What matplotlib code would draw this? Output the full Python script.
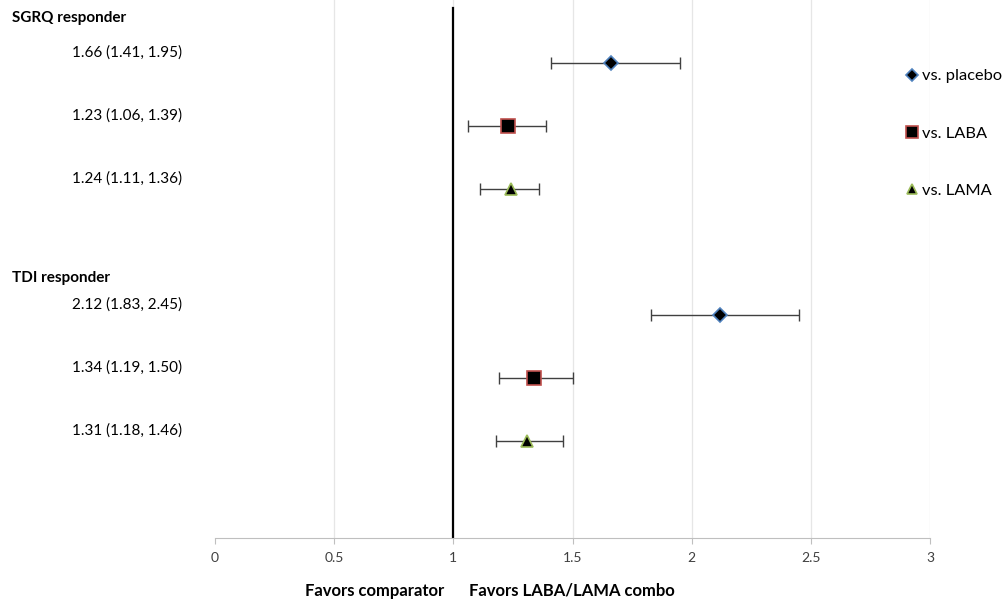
import matplotlib.pyplot as plt
import numpy as np

# data
outcomes = ["SGRQ responder", "TDI responder"]
comparators = ["vs. placebo", "vs. LABA", "vs. LAMA"]
odds_ratio = [[1.66, 1.23, 1.24], [2.12, 1.34, 1.31]]
ci_low = [[1.41, 1.06, 1.11], [1.83, 1.19, 1.18]]
ci_high = [[1.95, 1.39, 1.36], [2.45, 1.50, 1.46]]
xticks = [0, 0.5, 1, 1.5, 2, 2.5, 3]

markers = ["D", "s", "^"]
marker_sizes = [7, 9.5, 9]
edge_colors = ["#4F81BD", "#C0504D", "#9BBB59"]
header_y = [0.29, 4.42]

plt.rcParams['font.family'] = ['Lato', 'DejaVu Sans']

fig = plt.figure(figsize=(10.05, 6.02), dpi=100)
ax = fig.add_axes([215 / 1005, (602 - 538) / 602, 715 / 1005, 538 / 602])

ax.set_xlim(0, 3)
ax.set_ylim(8.54, 0)

# light vertical gridlines
for xt in xticks[1:]:
    ax.axvline(xt, color="#E6E6E6", linewidth=0.9, zorder=0)
# line of no effect
ax.plot([1, 1], [0.13, 8.54], color="black", linewidth=1.6, zorder=1)

handles = []
for g, outcome in enumerate(outcomes):
    ax.text(-0.85, header_y[g], outcome, fontsize=11, fontweight="bold",
            ha="left", va="center", clip_on=False)
    for i, comp in enumerate(comparators):
        row = g * 4 + i + 1
        err = [[odds_ratio[g][i] - ci_low[g][i]], [ci_high[g][i] - odds_ratio[g][i]]]
        ax.errorbar(odds_ratio[g][i], row, xerr=err, fmt="none", ecolor="#404040",
                    elinewidth=1.0, capsize=4, capthick=1.0, zorder=2)
        h, = ax.plot(odds_ratio[g][i], row, linestyle="none", marker=markers[i],
                     markersize=marker_sizes[i], markerfacecolor="black",
                     markeredgecolor=edge_colors[i], markeredgewidth=1.2,
                     zorder=3, label=comp)
        if g == 0:
            handles.append(h)
        label = f"{odds_ratio[g][i]:.2f} ({ci_low[g][i]:.2f}, {ci_high[g][i]:.2f})"
        ax.text(-0.6, row - 0.16, label, fontsize=11, ha="left", va="center",
                clip_on=False)

leg = ax.legend(handles=handles, loc="upper left", bbox_to_anchor=(0.968, 0.872),
                frameon=False, fontsize=11.8, labelspacing=2.62, handlelength=0.6,
                handletextpad=0.3, borderaxespad=0, borderpad=0, markerscale=0.85)

ax.set_xticks(xticks)
ax.set_xticklabels([f"{x:g}" for x in xticks], fontsize=10, color="#404040")
ax.set_yticks([])
for side in ["top", "right", "left"]:
    ax.spines[side].set_visible(False)
ax.spines["bottom"].set_color("#BFBFBF")
ax.tick_params(axis="x", direction="out", length=4, color="#BFBFBF", pad=6)

fig.text(375 / 1005, 1 - 591 / 602, "Favors comparator", fontsize=12,
         fontweight="bold", ha="center", va="center")
fig.text(572 / 1005, 1 - 591 / 602, "Favors LABA/LAMA combo", fontsize=12,
         fontweight="bold", ha="center", va="center")

fig.savefig("out.png", dpi=100)
